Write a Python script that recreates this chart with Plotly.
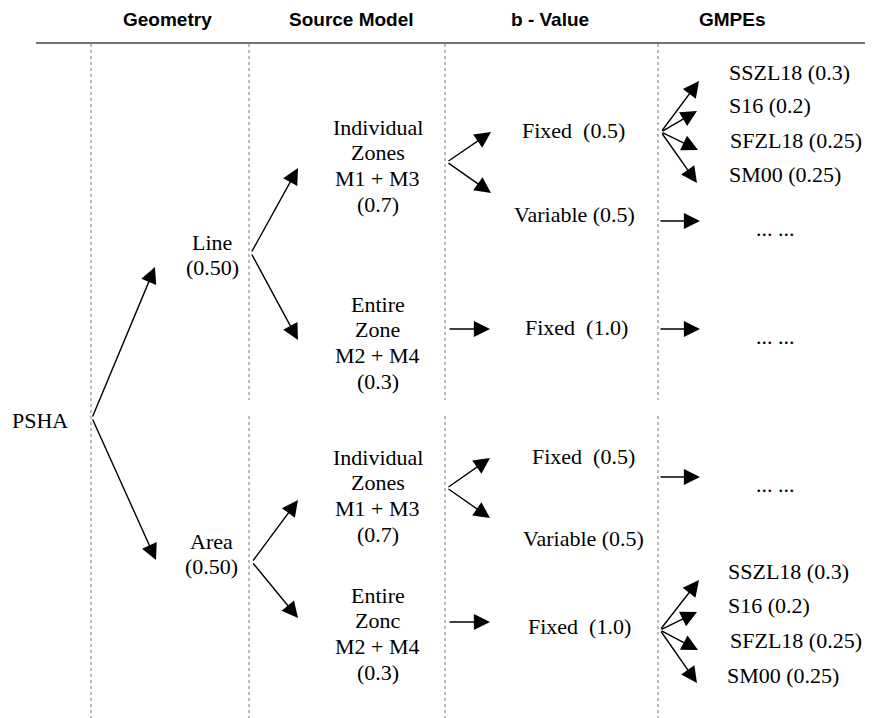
import plotly.graph_objects as go

# ---------------- data (labels and weights) ----------------
headers = ["Geometry", "Source Model", "b - Value", "GMPEs"]
root_label = "PSHA"
geometry_labels = ["Line", "Area"]
geometry_weights = ["0.50", "0.50"]
source_labels_line = [["Individual", "Zones", "M1 + M3"], ["Entire", "Zone", "M2 + M4"]]
source_labels_area = [["Individual", "Zones", "M1 + M3"], ["Entire", "Zonc", "M2 + M4"]]
source_weights = ["0.7", "0.3"]
bvalue_labels = ["Fixed\u00a0 ", "Variable ", "Fixed\u00a0 "]
bvalue_weights = ["0.5", "0.5", "1.0"]
gmpe_labels = ["SSZL18", "S16", "SFZL18", "SM00"]
gmpe_weights = ["0.3", "0.2", "0.25", "0.25"]
ellipsis = "... ..."

# ---------------- layout geometry (pixel canvas) ----------------
W, H = 873, 718
OFF = 8  # page body margin compensation
header_x = [167, 351, 550, 732]
header_y = 19
rule_y = 43
col_x = [91, 249, 445, 658]
gap = (400, 416)

SERIF = "Times New Roman, Liberation Serif, DejaVu Serif, serif"
SANS = "Arial, Liberation Sans, sans-serif"
FS = 22

fig = go.Figure()
ann = []
shapes = []

def text(x, y, s, anchor="center", size=FS, family=SERIF):
    ann.append(dict(x=x, y=y, xref="x", yref="y", text=s, showarrow=False,
                    xanchor=anchor, yanchor="middle",
                    font=dict(family=family, size=size, color="black")))

def arrow(x0, y0, x1, y1):
    ann.append(dict(x=x1, y=y1, ax=x0, ay=y0, xref="x", yref="y",
                    axref="x", ayref="y", text="", showarrow=True,
                    arrowhead=2, arrowsize=2.3, arrowwidth=1.4,
                    arrowcolor="black", standoff=0, startstandoff=0))

# headers
for hx, h in zip(header_x, headers):
    text(hx, header_y, "<b>%s</b>" % h, size=19, family=SANS)

# rule and column separators
shapes.append(dict(type="line", x0=36, x1=W + OFF, y0=rule_y, y1=rule_y,
                   line=dict(color="#444", width=1.5)))
for i, cx in enumerate(col_x):
    segs = [(rule_y + 1, H + OFF)] if i == 0 else [(rule_y + 1, gap[0]), (gap[1], H + OFF)]
    for a, b in segs:
        shapes.append(dict(type="line", x0=cx, x1=cx, y0=a, y1=b,
                           line=dict(color="#777", width=1, dash="dot")))

# root
text(40, 420, root_label)
root_origin = (92, 418)
geo_tips = [(155, 267), (156, 560)]
for t in geo_tips:
    arrow(*root_origin, *t)

# geometry nodes
geo_text = [(212, 242), (211, 541)]
for (gx, gy), lab, w in zip(geo_text, geometry_labels, geometry_weights):
    text(gx, gy, lab)
    text(gx, gy + 25.5, "(%s)" % w)

geo_origin = [(251, 253), (252, 562)]
src_tips = [[(298, 168), (298, 340)], [(298, 500), (298, 618)]]
for o, tips in zip(geo_origin, src_tips):
    for t in tips:
        arrow(*o, *t)

# source model nodes
src_top = [[127, 304], [457, 595]]
step = 25.8
for branch, labels_set in enumerate([source_labels_line, source_labels_area]):
    for k, (lines, w) in enumerate(zip(labels_set, source_weights)):
        y0 = src_top[branch][k]
        allines = lines + ["(%s)" % w]
        for j, ln in enumerate(allines):
            text(377.5, y0 + j * step, ln)

# source -> b-value
indiv_origin = [(447, 162), (447, 488)]
indiv_tips = [[(491, 132), (491, 193)], [(490, 458), (490, 518)]]
for o, tips in zip(indiv_origin, indiv_tips):
    for t in tips:
        arrow(*o, *t)
entire_arrow_y = [329, 622]
for y in entire_arrow_y:
    arrow(448, y, 490, y)

# b-value nodes
bval_pos = [[(573, 130), (574, 214), (576, 327)],
            [(583, 456), (583, 538), (579, 626)]]
for branch in range(2):
    for (bx, by), lab, w in zip(bval_pos[branch], bvalue_labels, bvalue_weights):
        text(bx, by, "%s(%s)" % (lab, w))

# b-value -> GMPEs (single arrows to ellipsis)
single_arrow_y = [221, 329, 477]
for y in single_arrow_y:
    arrow(659, y, 700, y)
    text(775, y + 7, ellipsis)

# GMPE fans
fan_origin = [(661, 132), (660, 630)]
fan_tips = [[(699, 81), (697, 111), (698, 150), (697, 183)],
            [(699, 580), (697, 612), (698, 650), (697, 683)]]
gmpe_text_y = [[72, 105, 140, 174], [571, 605, 640, 675]]
gmpe_text_x = [[727, 727, 728, 727], [726, 726, 728, 725]]
for b in range(2):
    for t in fan_tips[b]:
        arrow(*fan_origin[b], *t)
    for gx, gy, lab, w in zip(gmpe_text_x[b], gmpe_text_y[b], gmpe_labels, gmpe_weights):
        text(gx, gy, "%s (%s)" % (lab, w), anchor="left")

fig.update_layout(
    width=W, height=H,
    margin=dict(l=0, r=0, t=0, b=0),
    paper_bgcolor="white", plot_bgcolor="white",
    xaxis=dict(range=[OFF, W + OFF], visible=False, fixedrange=True),
    yaxis=dict(range=[H + OFF, OFF], visible=False, fixedrange=True),
    annotations=ann, shapes=shapes, showlegend=False,
)
fig.write_html("out.html")
